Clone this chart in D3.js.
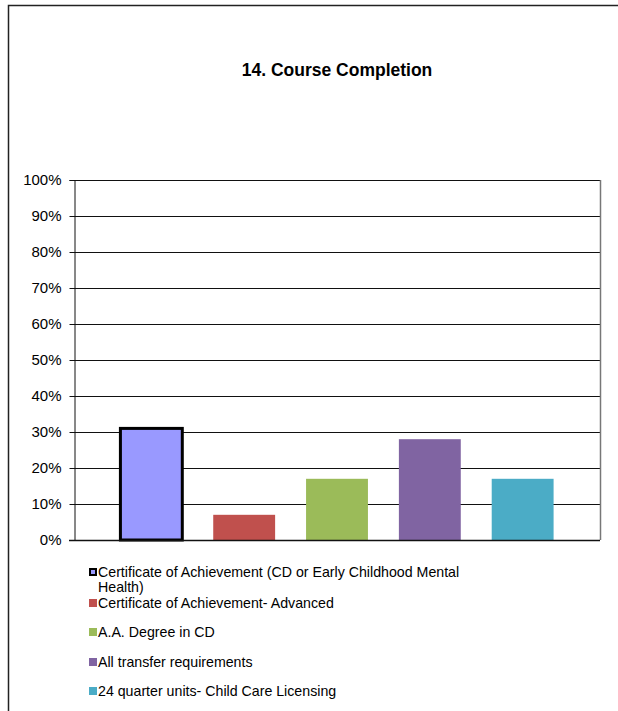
<!DOCTYPE html>
<html>
<head>
<meta charset="utf-8">
<script src="https://cdn.jsdelivr.net/npm/d3@7"></script>
<style>
  body { margin: 0; background: #fff; }
  text { font-family: "Liberation Sans", Arial, sans-serif; fill: #000; }
</style>
</head>
<body>
<div id="chart"></div>
<script>
// Chart data
const title = "14. Course Completion";
const series = [
  "Certificate of Achievement (CD or Early Childhood Mental Health)",
  "Certificate of Achievement- Advanced",
  "A.A. Degree in CD",
  "All transfer requirements",
  "24 quarter units- Child Care Licensing"
];
const values = [0.31, 0.07, 0.17, 0.28, 0.17];
const colors = ["#9999ff", "#c0504d", "#9bbb59", "#8064a2", "#4bacc6"];
const yTicks = [0, 0.1, 0.2, 0.3, 0.4, 0.5, 0.6, 0.7, 0.8, 0.9, 1.0];

const W = 618, H = 711;
const margin = { top: 180, right: 18, bottom: 171, left: 74 };
const width = W - margin.left - margin.right;
const height = H - margin.top - margin.bottom;

const root = d3.select("#chart")
  .append("svg")
  .attr("width", W)
  .attr("height", H);

// outer frame (only top and left edges visible)
root.append("rect")
  .attr("x", 8.5)
  .attr("y", 5.5)
  .attr("width", W + 20)
  .attr("height", H + 20)
  .attr("fill", "none")
  .attr("stroke", "#222")
  .attr("stroke-width", 1.5);

// title
root.append("text")
  .attr("x", margin.left + width / 2)
  .attr("y", 76)
  .attr("text-anchor", "middle")
  .attr("font-size", 17.5)
  .attr("font-weight", "bold")
  .text(title);

const svg = root.append("g")
  .attr("transform", `translate(${margin.left},${margin.top})`);

const x = d3.scaleBand()
  .domain(series)
  .range([0, width])
  .paddingInner(1 / 3)
  .paddingOuter(0.5);

const y = d3.scaleLinear()
  .domain([0, 1])
  .range([height, 0]);

// gridlines
svg.append("g")
  .selectAll("line")
  .data(yTicks.slice(1))
  .enter()
  .append("line")
  .attr("x1", 0)
  .attr("x2", width)
  .attr("y1", d => Math.round(y(d)) + 0.5)
  .attr("y2", d => Math.round(y(d)) + 0.5)
  .attr("stroke", "#111")
  .attr("stroke-width", 1);

// right edge of plot area
svg.append("line")
  .attr("x1", width + 0.5)
  .attr("x2", width + 0.5)
  .attr("y1", 0)
  .attr("y2", height)
  .attr("stroke", "#777")
  .attr("stroke-width", 1.5);

// y axis
const yAxis = d3.axisLeft(y)
  .tickValues(yTicks)
  .tickFormat(d3.format(".0%"))
  .tickSize(5)
  .tickPadding(8);

const yg = svg.append("g")
  .attr("transform", "translate(0.5,0)")
  .call(yAxis);
yg.select(".domain").attr("stroke", "#111");
yg.selectAll(".tick line").attr("stroke", "#111");
yg.selectAll(".tick text")
  .attr("font-size", 15)
  .attr("font-family", "Liberation Sans, Arial, sans-serif");

// bars
svg.selectAll(".bar")
  .data(series)
  .enter()
  .append("rect")
  .attr("class", "bar")
  .attr("x", d => x(d))
  .attr("y", (d, i) => y(values[i]))
  .attr("width", x.bandwidth())
  .attr("height", (d, i) => height - y(values[i]))
  .attr("fill", (d, i) => colors[i])
  .attr("stroke", (d, i) => i === 0 ? "#000" : "none")
  .attr("stroke-width", 3);

// x axis baseline
svg.append("line")
  .attr("x1", -5)
  .attr("x2", width)
  .attr("y1", height + 0.5)
  .attr("y2", height + 0.5)
  .attr("stroke", "#111")
  .attr("stroke-width", 1.5);

// legend
const legendRows = [
  ["Certificate of Achievement (CD or Early Childhood Mental", "Health)"],
  ["Certificate of Achievement- Advanced"],
  ["A.A. Degree in CD"],
  ["All transfer requirements"],
  ["24 quarter units- Child Care Licensing"]
];
const legendY = [577, 608, 637, 667, 696];

const legend = root.append("g");
legendRows.forEach((lines, i) => {
  legend.append("rect")
    .attr("x", i === 0 ? 90 : 89)
    .attr("y", legendY[i] - (i === 0 ? 8 : 9))
    .attr("width", i === 0 ? 6 : 8)
    .attr("height", i === 0 ? 6 : 8)
    .attr("fill", colors[i])
    .attr("stroke", i === 0 ? "#000" : "none")
    .attr("stroke-width", 2);

  const t = legend.append("text")
    .attr("x", 98)
    .attr("y", legendY[i])
    .attr("font-size", 14.2);
  lines.forEach((ln, j) => {
    t.append("tspan")
      .attr("x", 98)
      .attr("dy", j === 0 ? 0 : 14.5)
      .text(ln);
  });
});
</script>
</body>
</html>
